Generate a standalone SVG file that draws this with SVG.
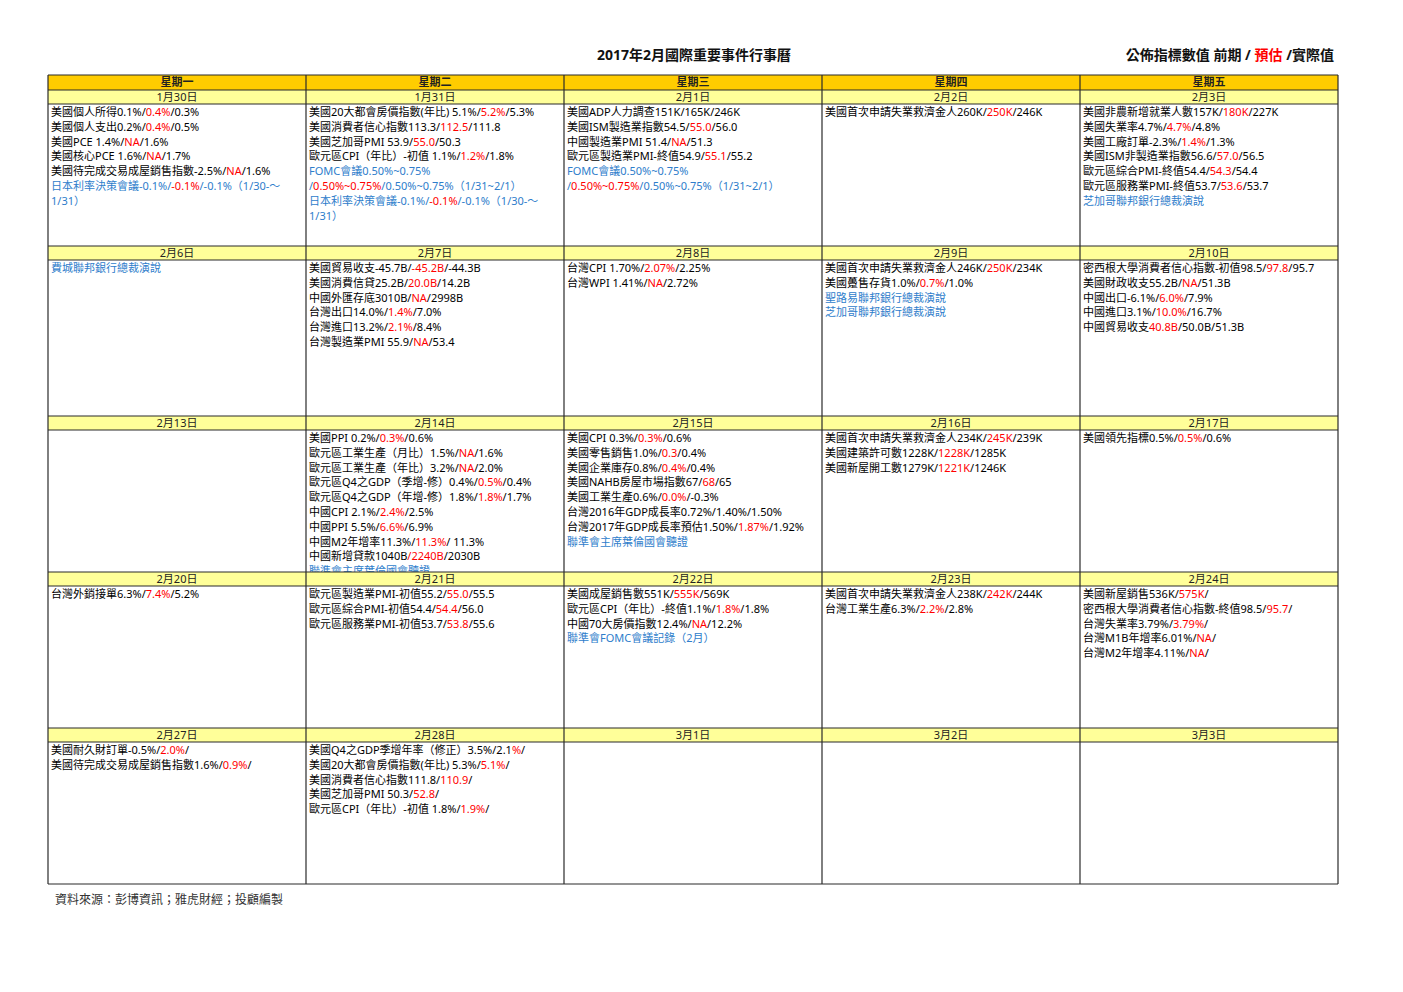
<svg xmlns="http://www.w3.org/2000/svg" width="1403" height="992" viewBox="0 0 1403 992" xml:space="preserve">
<style>
text{font-family:"Noto Sans","Noto Sans CJK TC",sans-serif;font-size:11px;fill:#000}
.r{fill:#FF0000}
.b{fill:#2E7DCB}
.hd{font-weight:bold;text-anchor:middle;fill:#222}
.dt{text-anchor:middle;fill:#222}
.title{font-size:14px;font-weight:bold;fill:#111}
.foot{font-size:12px;fill:#333}
.hdr{fill:#FFCC00}
.day{fill:#FFFF99}
.grid line{stroke:#2a2a2a;stroke-width:1.2}
</style>
<defs>
<clipPath id="c14"><rect x="306" y="430" width="258" height="142"/></clipPath>
</defs>
<rect width="1403" height="992" fill="#fff"/>
<g id="title"><text class="title" x="694" y="60" text-anchor="middle">2017年2月國際重要事件行事曆</text></g>
<g id="legend"><text class="title" x="1334" y="60" text-anchor="end">公佈指標數值  前期 / <tspan class="r">預估</tspan> /實際值</text></g>

<g id="weekday-header">
<rect class="hdr" x="48" y="75" width="1290" height="15"/>
<text class="hd" x="177" y="86">星期一</text>
<text class="hd" x="435" y="86">星期二</text>
<text class="hd" x="693" y="86">星期三</text>
<text class="hd" x="951" y="86">星期四</text>
<text class="hd" x="1209" y="86">星期五</text>
</g>

<g id="date-rows">
<rect class="day" x="48" y="90" width="1290" height="14"/>
<rect class="day" x="48" y="246" width="1290" height="14"/>
<rect class="day" x="48" y="416" width="1290" height="14"/>
<rect class="day" x="48" y="572" width="1290" height="14"/>
<rect class="day" x="48" y="728" width="1290" height="14"/>
</g>

<!-- Week 1 -->
<g id="d0130">
<text class="dt" x="177" y="101">1月30日</text>
<text x="51" y="116">美國個人所得0.1%/<tspan class="r">0.4%</tspan>/0.3%</text>
<text x="51" y="130.8">美國個人支出0.2%/<tspan class="r">0.4%</tspan>/0.5%</text>
<text x="51" y="145.6">美國PCE  1.4%/<tspan class="r">NA</tspan>/1.6%</text>
<text x="51" y="160.4">美國核心PCE 1.6%/<tspan class="r">NA</tspan>/1.7%</text>
<text x="51" y="175.2">美國待完成交易成屋銷售指數-2.5%/<tspan class="r">NA</tspan>/1.6%</text>
<text x="51" y="190" class="b">日本利率決策會議-0.1%/<tspan class="r">-0.1%</tspan>/-0.1%（1/30-～</text>
<text x="51" y="204.8" class="b">1/31）</text>
</g>
<g id="d0131">
<text class="dt" x="435" y="101">1月31日</text>
<text x="309" y="116">美國20大都會房價指數(年比) 5.1%/<tspan class="r">5.2%</tspan>/5.3%</text>
<text x="309" y="130.8">美國消費者信心指數113.3/<tspan class="r">112.5</tspan>/111.8</text>
<text x="309" y="145.6">美國芝加哥PMI 53.9/<tspan class="r">55.0</tspan>/50.3</text>
<text x="309" y="160.4">歐元區CPI（年比）-初值 1.1%/<tspan class="r">1.2%</tspan>/1.8%</text>
<text x="309" y="175.2" class="b">FOMC會議0.50%~0.75%</text>
<text x="309" y="190" class="b">/<tspan class="r">0.50%~0.75%</tspan>/0.50%~0.75%（1/31~2/1）</text>
<text x="309" y="204.8" class="b">日本利率決策會議-0.1%/<tspan class="r">-0.1%</tspan>/-0.1%（1/30-～</text>
<text x="309" y="219.6" class="b">1/31）</text>
</g>
<g id="d0201">
<text class="dt" x="693" y="101">2月1日</text>
<text x="567" y="116">美國ADP人力調查151K/165K/246K</text>
<text x="567" y="130.8">美國ISM製造業指數54.5/<tspan class="r">55.0</tspan>/56.0</text>
<text x="567" y="145.6">中國製造業PMI 51.4/<tspan class="r">NA</tspan>/51.3</text>
<text x="567" y="160.4">歐元區製造業PMI-終值54.9/<tspan class="r">55.1</tspan>/55.2</text>
<text x="567" y="175.2" class="b">FOMC會議0.50%~0.75%</text>
<text x="567" y="190" class="b">/<tspan class="r">0.50%~0.75%</tspan>/0.50%~0.75%（1/31~2/1）</text>
</g>
<g id="d0202">
<text class="dt" x="951" y="101">2月2日</text>
<text x="825" y="116">美國首次申請失業救濟金人260K/<tspan class="r">250K</tspan>/246K</text>
</g>
<g id="d0203">
<text class="dt" x="1209" y="101">2月3日</text>
<text x="1083" y="116">美國非農新增就業人數157K/<tspan class="r">180K</tspan>/227K</text>
<text x="1083" y="130.8">美國失業率4.7%/<tspan class="r">4.7%</tspan>/4.8%</text>
<text x="1083" y="145.6">美國工廠訂單-2.3%/<tspan class="r">1.4%</tspan>/1.3%</text>
<text x="1083" y="160.4">美國ISM非製造業指數56.6/<tspan class="r">57.0</tspan>/56.5</text>
<text x="1083" y="175.2">歐元區綜合PMI-終值54.4/<tspan class="r">54.3</tspan>/54.4</text>
<text x="1083" y="190">歐元區服務業PMI-終值53.7/<tspan class="r">53.6</tspan>/53.7</text>
<text x="1083" y="204.8" class="b">芝加哥聯邦銀行總裁演說</text>
</g>

<!-- Week 2 -->
<g id="d0206">
<text class="dt" x="177" y="257">2月6日</text>
<text x="51" y="272" class="b">費城聯邦銀行總裁演說</text>
</g>
<g id="d0207">
<text class="dt" x="435" y="257">2月7日</text>
<text x="309" y="272">美國貿易收支-45.7B/<tspan class="r">-45.2B</tspan>/-44.3B</text>
<text x="309" y="286.8">美國消費信貸25.2B/<tspan class="r">20.0B</tspan>/14.2B</text>
<text x="309" y="301.6">中國外匯存底3010B/<tspan class="r">NA</tspan>/2998B</text>
<text x="309" y="316.4">台灣出口14.0%/<tspan class="r">1.4%</tspan>/7.0%</text>
<text x="309" y="331.2">台灣進口13.2%/<tspan class="r">2.1%</tspan>/8.4%</text>
<text x="309" y="346">台灣製造業PMI 55.9/<tspan class="r">NA</tspan>/53.4</text>
</g>
<g id="d0208">
<text class="dt" x="693" y="257">2月8日</text>
<text x="567" y="272">台灣CPI  1.70%/<tspan class="r">2.07%</tspan>/2.25%</text>
<text x="567" y="286.8">台灣WPI  1.41%/<tspan class="r">NA</tspan>/2.72%</text>
</g>
<g id="d0209">
<text class="dt" x="951" y="257">2月9日</text>
<text x="825" y="272">美國首次申請失業救濟金人246K/<tspan class="r">250K</tspan>/234K</text>
<text x="825" y="286.8">美國躉售存貨1.0%/<tspan class="r">0.7%</tspan>/1.0%</text>
<text x="825" y="301.6" class="b">聖路易聯邦銀行總裁演說</text>
<text x="825" y="316.4" class="b">芝加哥聯邦銀行總裁演說</text>
</g>
<g id="d0210">
<text class="dt" x="1209" y="257">2月10日</text>
<text x="1083" y="272">密西根大學消費者信心指數-初值98.5/<tspan class="r">97.8</tspan>/95.7</text>
<text x="1083" y="286.8">美國財政收支55.2B/<tspan class="r">NA</tspan>/51.3B</text>
<text x="1083" y="301.6">中國出口-6.1%/<tspan class="r">6.0%</tspan>/7.9%</text>
<text x="1083" y="316.4">中國進口3.1%/<tspan class="r">10.0%</tspan>/16.7%</text>
<text x="1083" y="331.2">中國貿易收支<tspan class="r">40.8B</tspan>/50.0B/51.3B</text>
</g>

<!-- Week 3 -->
<g id="d0213">
<text class="dt" x="177" y="427">2月13日</text>
</g>
<g id="d0214">
<text class="dt" x="435" y="427">2月14日</text>
<g clip-path="url(#c14)">
<text x="309" y="442">美國PPI 0.2%/<tspan class="r">0.3%</tspan>/0.6%</text>
<text x="309" y="456.8">歐元區工業生產（月比）1.5%/<tspan class="r">NA</tspan>/1.6%</text>
<text x="309" y="471.6">歐元區工業生產（年比）3.2%/<tspan class="r">NA</tspan>/2.0%</text>
<text x="309" y="486.4">歐元區Q4之GDP（季增-修）0.4%/<tspan class="r">0.5%</tspan>/0.4%</text>
<text x="309" y="501.2">歐元區Q4之GDP（年增-修）1.8%/<tspan class="r">1.8%</tspan>/1.7%</text>
<text x="309" y="516">中國CPI  2.1%/<tspan class="r">2.4%</tspan>/2.5%</text>
<text x="309" y="530.8">中國PPI 5.5%/<tspan class="r">6.6%</tspan>/6.9%</text>
<text x="309" y="545.6">中國M2年增率11.3%/<tspan class="r">11.3%</tspan>/ 11.3%</text>
<text x="309" y="560.4">中國新增貸款1040B<tspan class="r">/2240B</tspan>/2030B</text>
<text x="309" y="575.2" class="b">聯準會主席葉倫國會聽證</text>
</g>
</g>
<g id="d0215">
<text class="dt" x="693" y="427">2月15日</text>
<text x="567" y="442">美國CPI  0.3%/<tspan class="r">0.3%</tspan>/0.6%</text>
<text x="567" y="456.8">美國零售銷售1.0%/<tspan class="r">0.3</tspan>/0.4%</text>
<text x="567" y="471.6">美國企業庫存0.8%/<tspan class="r">0.4%</tspan>/0.4%</text>
<text x="567" y="486.4">美國NAHB房屋市場指數67/<tspan class="r">68</tspan>/65</text>
<text x="567" y="501.2">美國工業生產0.6%/<tspan class="r">0.0%</tspan>/-0.3%</text>
<text x="567" y="516">台灣2016年GDP成長率0.72%/1.40%/1.50%</text>
<text x="567" y="530.8">台灣2017年GDP成長率預估1.50%/<tspan class="r">1.87%</tspan>/1.92%</text>
<text x="567" y="545.6" class="b">聯準會主席葉倫國會聽證</text>
</g>
<g id="d0216">
<text class="dt" x="951" y="427">2月16日</text>
<text x="825" y="442">美國首次申請失業救濟金人234K/<tspan class="r">245K</tspan>/239K</text>
<text x="825" y="456.8">美國建築許可數1228K/<tspan class="r">1228K</tspan>/1285K</text>
<text x="825" y="471.6">美國新屋開工數1279K/<tspan class="r">1221K</tspan>/1246K</text>
</g>
<g id="d0217">
<text class="dt" x="1209" y="427">2月17日</text>
<text x="1083" y="442">美國領先指標0.5%/<tspan class="r">0.5%</tspan>/0.6%</text>
</g>

<!-- Week 4 -->
<g id="d0220">
<text class="dt" x="177" y="583">2月20日</text>
<text x="51" y="598">台灣外銷接單6.3%/<tspan class="r">7.4%</tspan>/5.2%</text>
</g>
<g id="d0221">
<text class="dt" x="435" y="583">2月21日</text>
<text x="309" y="598">歐元區製造業PMI-初值55.2/<tspan class="r">55.0</tspan>/55.5</text>
<text x="309" y="612.8">歐元區綜合PMI-初值54.4/<tspan class="r">54.4</tspan>/56.0</text>
<text x="309" y="627.6">歐元區服務業PMI-初值53.7/<tspan class="r">53.8</tspan>/55.6</text>
</g>
<g id="d0222">
<text class="dt" x="693" y="583">2月22日</text>
<text x="567" y="598">美國成屋銷售數551K/<tspan class="r">555K</tspan>/569K</text>
<text x="567" y="612.8">歐元區CPI（年比）-終值1.1%/<tspan class="r">1.8%</tspan>/1.8%</text>
<text x="567" y="627.6">中國70大房價指數12.4%/<tspan class="r">NA</tspan>/12.2%</text>
<text x="567" y="642.4" class="b">聯準會FOMC會議記錄（2月）</text>
</g>
<g id="d0223">
<text class="dt" x="951" y="583">2月23日</text>
<text x="825" y="598">美國首次申請失業救濟金人238K/<tspan class="r">242K</tspan>/244K</text>
<text x="825" y="612.8">台灣工業生產6.3%/<tspan class="r">2.2%</tspan>/2.8%</text>
</g>
<g id="d0224">
<text class="dt" x="1209" y="583">2月24日</text>
<text x="1083" y="598">美國新屋銷售536K/<tspan class="r">575K</tspan>/</text>
<text x="1083" y="612.8">密西根大學消費者信心指數-終值98.5/<tspan class="r">95.7</tspan>/</text>
<text x="1083" y="627.6">台灣失業率3.79%/<tspan class="r">3.79%</tspan>/</text>
<text x="1083" y="642.4">台灣M1B年增率6.01%/<tspan class="r">NA</tspan>/</text>
<text x="1083" y="657.2">台灣M2年增率4.11%/<tspan class="r">NA</tspan>/</text>
</g>

<!-- Week 5 -->
<g id="d0227">
<text class="dt" x="177" y="739">2月27日</text>
<text x="51" y="754">美國耐久財訂單-0.5%/<tspan class="r">2.0%</tspan>/</text>
<text x="51" y="768.8">美國待完成交易成屋銷售指數1.6%/<tspan class="r">0.9%</tspan>/</text>
</g>
<g id="d0228">
<text class="dt" x="435" y="739">2月28日</text>
<text x="309" y="754">美國Q4之GDP季增年率（修正）3.5%/2.1<tspan class="r">%</tspan>/</text>
<text x="309" y="768.8">美國20大都會房價指數(年比) 5.3%/<tspan class="r">5.1%</tspan>/</text>
<text x="309" y="783.6">美國消費者信心指數111.8/<tspan class="r">110.9</tspan>/</text>
<text x="309" y="798.4">美國芝加哥PMI 50.3/<tspan class="r">52.8</tspan>/</text>
<text x="309" y="813.2">歐元區CPI（年比）-初值 1.8%/<tspan class="r">1.9%</tspan>/</text>
</g>
<g id="d0301"><text class="dt" x="693" y="739">3月1日</text></g>
<g id="d0302"><text class="dt" x="951" y="739">3月2日</text></g>
<g id="d0303"><text class="dt" x="1209" y="739">3月3日</text></g>

<g id="connectors" class="grid">
<line x1="48" y1="75" x2="1338" y2="75"/>
<line x1="48" y1="90" x2="1338" y2="90"/>
<line x1="48" y1="104" x2="1338" y2="104"/>
<line x1="48" y1="246" x2="1338" y2="246"/>
<line x1="48" y1="260" x2="1338" y2="260"/>
<line x1="48" y1="416" x2="1338" y2="416"/>
<line x1="48" y1="430" x2="1338" y2="430"/>
<line x1="48" y1="572" x2="1338" y2="572"/>
<line x1="48" y1="586" x2="1338" y2="586"/>
<line x1="48" y1="728" x2="1338" y2="728"/>
<line x1="48" y1="742" x2="1338" y2="742"/>
<line x1="48" y1="884" x2="1338" y2="884"/>
<line x1="48" y1="75" x2="48" y2="884"/>
<line x1="306" y1="75" x2="306" y2="884"/>
<line x1="564" y1="75" x2="564" y2="884"/>
<line x1="822" y1="75" x2="822" y2="884"/>
<line x1="1080" y1="75" x2="1080" y2="884"/>
<line x1="1338" y1="75" x2="1338" y2="884"/>
</g>

<g id="footer"><text class="foot" x="55" y="904">資料來源：彭博資訊；雅虎財經；投顧編製</text></g>
</svg>
